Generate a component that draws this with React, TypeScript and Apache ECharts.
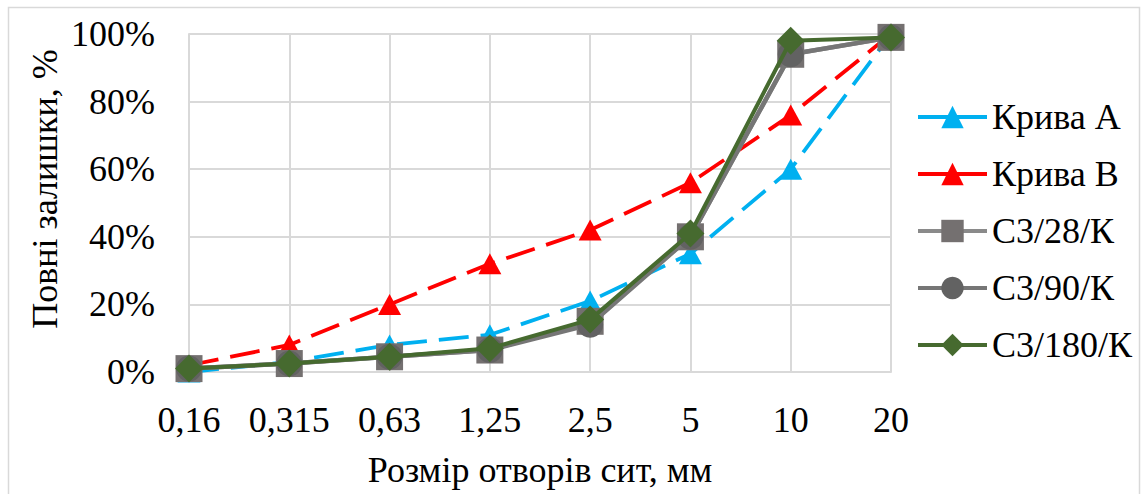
import React, { useEffect, useRef } from "react";
import * as echarts from "echarts";

// Sieve opening sizes, mm
const sieveSizes = ["0,16", "0,315", "0,63", "1,25", "2,5", "5", "10", "20"];

// Total residue on each sieve, %
const curveA = [0, 3, 8, 11, 21, 35, 60, 100];
const curveB = [2, 8, 20, 32, 42, 56, 76, 100];
const mix28 = [1, 2.5, 4.5, 6.5, 15, 40, 94, 99];
const mix90 = [1, 2.5, 4.5, 6.5, 14, 40, 94, 99];
const mix180 = [1, 2.5, 4.5, 7, 15.5, 41, 98, 99];

const seriesNames = ["Крива A", "Крива B", "С3/28/К", "С3/90/К", "С3/180/К"];
const yTicks = { min: 0, max: 100, step: 20 };

const FONT = "'Liberation Serif', 'Times New Roman', serif";
const GRID_COLOR = "#d9d9d9";

export default function App() {
  const ref = useRef<HTMLDivElement>(null);

  useEffect(() => {
    if (!ref.current) return;
    const chart = echarts.init(ref.current, undefined, { renderer: "svg" });

    const dashed = [30, 12];

    chart.setOption({
      animation: false,
      backgroundColor: "#ffffff",
      textStyle: { fontFamily: FONT, color: "#000" },
      grid: { left: 189, right: 251, top: 34, bottom: 122 },
      legend: {
        orient: "vertical",
        left: 911,
        top: 94,
        itemWidth: 69,
        itemHeight: 28,
        itemGap: 21,
        data: seriesNames,
        lineStyle: { type: "solid", width: 4 },
        textStyle: { fontFamily: FONT, fontSize: 36, color: "#000" },
      },
      xAxis: {
        type: "category",
        data: sieveSizes,
        boundaryGap: false,
        name: "Розмір отворів сит, мм",
        nameLocation: "middle",
        nameGap: 80,
        nameTextStyle: { fontFamily: FONT, fontSize: 36, color: "#000" },
        axisLine: { lineStyle: { color: GRID_COLOR, width: 2 } },
        axisTick: { show: false },
        axisLabel: {
          interval: 0,
          fontFamily: FONT,
          fontSize: 36,
          color: "#000",
          margin: 30,
        },
        splitLine: { show: true, interval: 0, lineStyle: { color: GRID_COLOR, width: 2 } },
      },
      yAxis: {
        type: "value",
        min: yTicks.min,
        max: yTicks.max,
        interval: yTicks.step,
        axisLine: { show: true, lineStyle: { color: GRID_COLOR, width: 2 } },
        axisTick: { show: false },
        axisLabel: {
          fontFamily: FONT,
          fontSize: 36,
          color: "#000",
          margin: 34,
          formatter: "{value}%",
        },
        splitLine: { lineStyle: { color: GRID_COLOR, width: 2 } },
      },
      graphic: [
        {
          type: "rect",
          shape: { x: 8.5, y: 7.5, width: 1131, height: 520 },
          style: { fill: "none", stroke: GRID_COLOR, lineWidth: 1.5 },
          silent: true,
          z: -1,
        },
        {
          type: "text",
          x: 45,
          y: 189,
          rotation: Math.PI / 2,
          style: {
            text: "Повні залишки, %",
            fontFamily: FONT,
            fontSize: 36,
            fill: "#000",
            align: "center",
            verticalAlign: "middle",
          },
        },
      ],
      series: [
        {
          name: seriesNames[0],
          type: "line",
          data: curveA,
          symbol: "triangle",
          symbolSize: [23, 21],
          color: "#00B0F0",
          lineStyle: { color: "#00B0F0", width: 3.8, type: dashed },
          itemStyle: { color: "#00B0F0" },
          z: 2,
        },
        {
          name: seriesNames[1],
          type: "line",
          data: curveB,
          symbol: "triangle",
          symbolSize: [23, 21],
          color: "#FF0000",
          lineStyle: { color: "#FF0000", width: 3.8, type: dashed },
          itemStyle: { color: "#FF0000" },
          z: 3,
        },
        {
          name: seriesNames[2],
          type: "line",
          data: mix28,
          symbol: "rect",
          symbolSize: 27,
          color: "#747070",
          lineStyle: { color: "#8a8a8a", width: 4.5 },
          itemStyle: { color: "#747070" },
          z: 4,
        },
        {
          name: seriesNames[3],
          type: "line",
          data: mix90,
          symbol: "circle",
          symbolSize: 26,
          color: "#626262",
          lineStyle: { color: "#767676", width: 4.5 },
          itemStyle: { color: "#626262" },
          z: 5,
        },
        {
          name: seriesNames[4],
          type: "line",
          data: mix180,
          symbol: "diamond",
          symbolSize: 28,
          color: "#466A2F",
          lineStyle: { color: "#466A2F", width: 4 },
          itemStyle: { color: "#466A2F" },
          z: 6,
        },
      ],
    });

    return () => chart.dispose();
  }, []);

  return (
    <div
      ref={ref}
      style={{ position: "fixed", left: 0, top: 0, width: 1142, height: 494 }}
    />
  );
}
